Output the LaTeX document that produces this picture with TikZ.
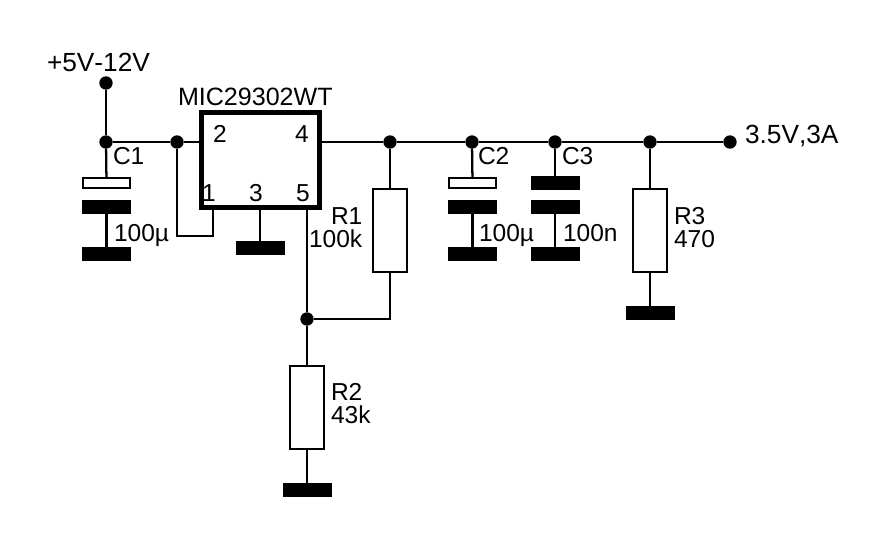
\documentclass[tikz,border=0pt]{standalone}
\usepackage{fontspec}
\setmainfont[Kerning=Off]{Liberation Sans}
\usepackage{tikz}

\tikzset{
    wire/.style={line width=1.7pt},
    dot/.style={circle,fill=black,inner sep=0pt,outer sep=0pt,minimum size=10pt},
    plate/.style={rectangle,fill=black,inner sep=0pt,outer sep=0pt,minimum width=36.75pt,minimum height=10.5pt},
    elko/.style={rectangle,draw,fill=white,line width=1.4pt,inner sep=0pt,outer sep=0pt,minimum width=35pt,minimum height=8pt},
    resistor/.style={rectangle,draw,line width=1.6pt,inner sep=0pt,outer sep=0pt,minimum width=26pt,minimum height=62pt},
    chip/.style={rectangle,draw,line width=3.75pt,inner sep=0pt,outer sep=0pt,minimum width=88.5pt,minimum height=71.25pt},
    lbl/.style={anchor=base west,inner sep=0pt,outer sep=0pt,font=\fontsize{18.4}{20}\selectfont},
    lblwide/.style={lbl,font=\fontsize{19.7}{20}\selectfont}
}

\begin{document}
\begin{tikzpicture}[x=0.75pt,y=-0.75pt]
    \useasboundingbox (0,0) rectangle (886,543);
    % regulator
    \node[chip] (ic) at (260.5,160) {};
    % rail dots
    \node[dot] (din) at (106,83) {};
    \node[dot] (da) at (106,142) {};
    \node[dot] (db) at (177,142) {};
    \node[dot] (dc) at (390,142) {};
    \node[dot] (dd) at (472,142) {};
    \node[dot] (de) at (555,142) {};
    \node[dot] (df) at (650,142) {};
    \node[dot] (dout) at (730,142) {};
    \node[dot] (dfb) at (307,319) {};
    % capacitors
    \node[elko] (c1top) at (106.5,183) {};
    \node[plate] (c1mid) at (106.5,207) {};
    \node[plate] (c1bot) at (106.5,254) {};
    \node[elko] (c2top) at (472.5,183) {};
    \node[plate] (c2mid) at (472.5,207) {};
    \node[plate] (c2bot) at (472.5,254) {};
    \node[plate] (c3top) at (555,183) {};
    \node[plate] (c3mid) at (555,207) {};
    \node[plate] (c3bot) at (555,254) {};
    % resistors
    \node[resistor] (r1) at (390,230.5) {};
    \node[resistor] (r2) at (307,407.5) {};
    \node[resistor] (r3) at (650,230.5) {};
    % ground plates
    \node[plate] (g3) at (260,248) {};
    \node[plate] (gr2) at (307,490) {};
    \node[plate] (gr3) at (650,313) {};
    % helpers for the pins
    \coordinate (p1) at (213,236);
    \coordinate (p3) at (260,210);
    \coordinate (p5) at (307,210);
    % wires
    \draw[wire] (din) -- (da) -- (db) -- (db -| ic.west);
    \draw[wire] (ic.east |- dc) -- (dc) -- (dd) -- (de) -- (df) -- (dout);
    \draw[wire] (da) -- (c1top);
    \draw[wire] (c1mid) -- (c1bot);
    \draw[wire] (dd) -- (c2top);
    \draw[wire] (c2mid) -- (c2bot);
    \draw[wire] (de) -- (c3top);
    \draw[wire] (c3mid) -- (c3bot);
    \draw[wire] (db) |- (p1) -- (p1 |- ic.south);
    \draw[wire] (p3) -- (g3);
    \draw[wire] (p5) -- (dfb) -- (r2);
    \draw[wire] (r2) -- (gr2);
    \draw[wire] (dc) -- (r1);
    \draw[wire] (r1) |- (dfb);
    \draw[wire] (df) -- (r3);
    \draw[wire] (r3) -- (gr3);
    % texts
    \node[lblwide] (tin) at (47,71) {+5V-12V};
    \node[lbl,font=\fontsize{18.8}{20}\selectfont] (tic) at (178,105) {MIC29302WT};
    \node[lblwide] (tout) at (745,143) {3.5V,3A};
    \node[lbl] (pa) at (213,142) {2};
    \node[lbl] (pb) at (295,142) {4};
    \node[lbl] (pc) at (202,201) {1};
    \node[lbl] (pd) at (249,201) {3};
    \node[lbl] (pe) at (296,201) {5};
    \node[lbl] (tc1) at (113,164) {C1};
    \node[lbl] (vc1) at (114,241) {100µ};
    \node[lbl] (tc2) at (478,164) {C2};
    \node[lbl] (vc2) at (479,241) {100µ};
    \node[lbl] (tc3) at (562,164) {C3};
    \node[lbl] (vc3) at (563,241) {100n};
    \node[lbl] (tr1) at (331,224) {R1};
    \node[lbl] (vr1) at (309,247) {100k};
    \node[lbl] (tr2) at (331,400) {R2};
    \node[lbl] (vr2) at (331,423) {43k};
    \node[lbl] (tr3) at (674,224) {R3};
    \node[lbl] (vr3) at (674,247) {470};
\end{tikzpicture}
\end{document}
